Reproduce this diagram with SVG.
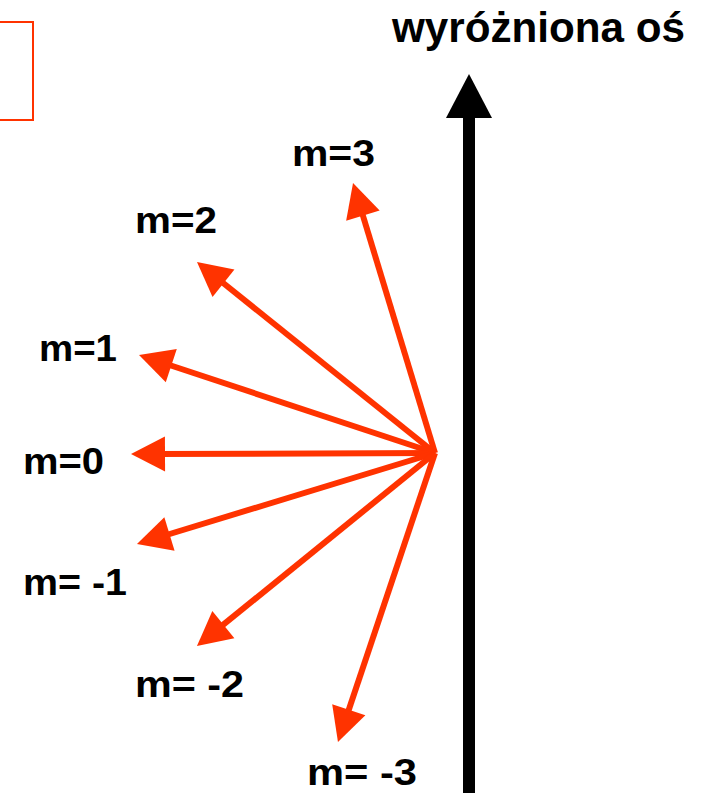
<svg xmlns="http://www.w3.org/2000/svg" width="702" height="793" viewBox="0 0 702 793">
<defs>
<style>
.lbl{font-family:"Liberation Sans",Arial,Helvetica,sans-serif;font-weight:bold;font-size:37px;fill:#000}
.ttl{font-family:"Liberation Sans",Arial,Helvetica,sans-serif;font-weight:bold;font-size:43px;fill:#000}
.vec{stroke:#ff3300;stroke-width:6;fill:none;marker-end:url(#head)}
</style>
<marker id="head" markerUnits="userSpaceOnUse" markerWidth="40" markerHeight="40" viewBox="0 -20 40 40" refX="10" refY="0" orient="auto" overflow="visible">
<path d="M0,-17.5 L34,0 L0,17.5 Z" fill="#ff3300"/>
</marker>
</defs>
<rect width="702" height="793" fill="#fff"/>
<g id="box"><rect x="-10" y="22" width="43" height="98" fill="none" stroke="#ff3300" stroke-width="2"/></g>
<g id="axis">
<line x1="469" y1="800" x2="469" y2="116" stroke="#000" stroke-width="12"/>
<polygon points="469,74 446,118 492,118" fill="#000"/>
<text class="ttl" x="392" y="42" textLength="293" lengthAdjust="spacingAndGlyphs">wyróżniona oś</text>
</g>
<g id="connectors">
<line class="vec" x1="435" y1="453" x2="360" y2="206"/>
<line class="vec" x1="435" y1="453" x2="215.7" y2="277"/>
<line class="vec" x1="435" y1="453" x2="161.8" y2="362.5"/>
<line class="vec" x1="435" y1="453" x2="155" y2="454"/>
<line class="vec" x1="435" y1="453" x2="159.9" y2="537"/>
<line class="vec" x1="435" y1="453" x2="215.6" y2="630.9"/>
<line class="vec" x1="435" y1="453" x2="345.6" y2="719.2"/>
</g>
<g id="m3"><text class="lbl" x="292" y="166" textLength="83" lengthAdjust="spacingAndGlyphs">m=3</text></g>
<g id="m2"><text class="lbl" x="135" y="233" textLength="82" lengthAdjust="spacingAndGlyphs">m=2</text></g>
<g id="m1"><text class="lbl" x="39" y="361" textLength="78" lengthAdjust="spacingAndGlyphs">m=1</text></g>
<g id="m0"><text class="lbl" x="23" y="474" textLength="81" lengthAdjust="spacingAndGlyphs">m=0</text></g>
<g id="mm1"><text class="lbl" x="23" y="595" textLength="104" lengthAdjust="spacingAndGlyphs">m= -1</text></g>
<g id="mm2"><text class="lbl" x="135" y="697" textLength="109" lengthAdjust="spacingAndGlyphs">m= -2</text></g>
<g id="mm3"><text class="lbl" x="307" y="785" textLength="110" lengthAdjust="spacingAndGlyphs">m= -3</text></g>
</svg>
